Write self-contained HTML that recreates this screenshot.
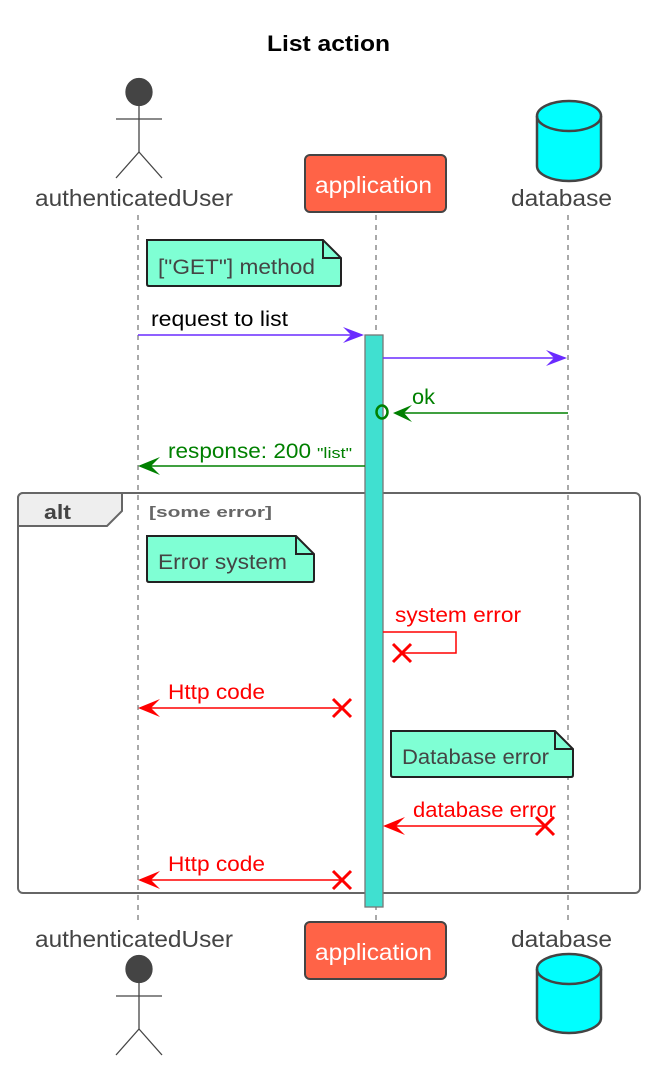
<!DOCTYPE html>
<html><head><meta charset="utf-8"><style>
html,body{margin:0;padding:0;background:#fff;}
svg{display:block;font-family:"Liberation Sans",sans-serif;}
</style></head><body>
<svg width="650" height="1065" viewBox="0 0 650 1065" xmlns="http://www.w3.org/2000/svg">
<rect width="650" height="1065" fill="#fff"/>
<text x="267" y="51" font-size="22" font-weight="bold" fill="#000" textLength="123" lengthAdjust="spacingAndGlyphs">List action</text>

<g stroke="#555" stroke-width="1" stroke-dasharray="5,5">
<line x1="138" y1="215" x2="138" y2="922"/>
<line x1="376" y1="215" x2="376" y2="922"/>
<line x1="568" y1="215" x2="568" y2="922"/>
</g>

<g stroke="#444" fill="none" stroke-width="1.3">
<ellipse cx="139" cy="92" rx="13" ry="13.5" fill="#444"/>
<line x1="139" y1="105" x2="139" y2="152"/>
<line x1="116" y1="119" x2="162" y2="119"/>
<line x1="139" y1="152" x2="116" y2="178"/>
<line x1="139" y1="152" x2="162" y2="178"/>
</g>
<text x="35" y="206" font-size="23" fill="#444" textLength="198" lengthAdjust="spacingAndGlyphs">authenticatedUser</text>
<rect x="305" y="155" width="141" height="57" rx="5" fill="#FF6347" stroke="#444" stroke-width="2"/>
<text x="315" y="193" font-size="23" fill="#fff" textLength="117" lengthAdjust="spacingAndGlyphs">application</text>
<path d="M537,116 L537,166 A32,15 0 0 0 601,166 L601,116 A32,15 0 0 0 537,116 Z" fill="#00FFFF" stroke="#444" stroke-width="2.5"/>
<path d="M537,116 A32,15 0 0 0 601,116" fill="none" stroke="#444" stroke-width="2.5"/>
<text x="511" y="206" font-size="23" fill="#444" textLength="101" lengthAdjust="spacingAndGlyphs">database</text>

<g stroke="#444" fill="none" stroke-width="1.3">
<ellipse cx="139" cy="969" rx="13" ry="13.5" fill="#444"/>
<line x1="139" y1="982" x2="139" y2="1029"/>
<line x1="116" y1="996" x2="162" y2="996"/>
<line x1="139" y1="1029" x2="116" y2="1055"/>
<line x1="139" y1="1029" x2="162" y2="1055"/>
</g>
<text x="35" y="947" font-size="23" fill="#444" textLength="198" lengthAdjust="spacingAndGlyphs">authenticatedUser</text>
<rect x="305" y="922" width="141" height="57" rx="5" fill="#FF6347" stroke="#444" stroke-width="2"/>
<text x="315" y="960" font-size="23" fill="#fff" textLength="117" lengthAdjust="spacingAndGlyphs">application</text>
<path d="M537,969 L537,1018 A32,15 0 0 0 601,1018 L601,969 A32,15 0 0 0 537,969 Z" fill="#00FFFF" stroke="#444" stroke-width="2.5"/>
<path d="M537,969 A32,15 0 0 0 601,969" fill="none" stroke="#444" stroke-width="2.5"/>
<text x="511" y="947" font-size="23" fill="#444" textLength="101" lengthAdjust="spacingAndGlyphs">database</text>

<rect x="18" y="493" width="622" height="400" rx="5" fill="none" stroke="#666" stroke-width="2"/>
<path d="M18,498 A5,5 0 0 1 23,493 L122,493 L122,511 L107,526 L18,526 Z" fill="#eee" stroke="#666" stroke-width="2"/>
<text x="44" y="519" font-size="20" font-weight="bold" fill="#444" textLength="27" lengthAdjust="spacingAndGlyphs">alt</text>
<text x="149" y="517" font-size="15" font-weight="bold" fill="#666" textLength="123" lengthAdjust="spacingAndGlyphs">[some error]</text>

<rect x="365" y="335" width="18" height="572" fill="#40E0D0" stroke="#777" stroke-width="1.3"/>

<g stroke="#222" stroke-width="2" fill="#7FFFD4">
<path d="M147,240 L323,240 L341,258 L341,284 Q341,286 339,286 L149,286 Q147,286 147,284 Z"/>
<path d="M323,240 L323,258 L341,258" fill="none"/>
<path d="M147,536 L296,536 L314,554 L314,580 Q314,582 312,582 L149,582 Q147,582 147,580 Z"/>
<path d="M296,536 L296,554 L314,554" fill="none"/>
<path d="M391,731 L555,731 L573,749 L573,775 Q573,777 571,777 L393,777 Q391,777 391,775 Z"/>
<path d="M555,731 L555,749 L573,749" fill="none"/>
</g>
<g font-size="21" fill="#444">
<text x="158" y="274" textLength="157" lengthAdjust="spacingAndGlyphs">["GET"] method</text>
<text x="158" y="569" textLength="129" lengthAdjust="spacingAndGlyphs">Error system</text>
<text x="402" y="764" textLength="147" lengthAdjust="spacingAndGlyphs">Database error</text>
</g>

<g stroke="#6A2BFF" stroke-width="1.5" fill="#6A2BFF">
<line x1="138" y1="335" x2="362" y2="335"/>
<path d="M364,335 L343,327 L351,335 L343,343 Z" stroke="none"/>
<line x1="383" y1="358" x2="565" y2="358"/>
<path d="M567,358 L546,350 L554,358 L546,366 Z" stroke="none"/>
</g>
<text x="151" y="326" font-size="21" fill="#000" textLength="137" lengthAdjust="spacingAndGlyphs">request to list</text>

<g stroke="#008000" stroke-width="1.5" fill="#008000">
<line x1="395" y1="413" x2="568" y2="413"/>
<path d="M393,413 L412,405 L404,413 L412,422 Z" stroke="none"/>
<ellipse cx="382" cy="412" rx="5.5" ry="6.5" fill="none" stroke-width="2.5"/>
<line x1="140" y1="466" x2="365" y2="466"/>
<path d="M138,466 L160,457 L151,466 L160,475 Z" stroke="none"/>
</g>
<text x="412" y="404" font-size="21" fill="#008000" textLength="23" lengthAdjust="spacingAndGlyphs">ok</text>
<text x="168" y="458" font-size="21" fill="#008000" textLength="143" lengthAdjust="spacingAndGlyphs">response: 200</text>
<text x="317" y="458" font-size="15" fill="#008000" textLength="35" lengthAdjust="spacingAndGlyphs">"list"</text>

<g stroke="#FF0000" stroke-width="1.5" fill="#FF0000">
<path d="M383,632 L456,632 L456,653 L402,653" fill="none"/>
<path d="M393,644 L411,662 M411,644 L393,662" stroke-width="3" fill="none"/>
<line x1="140" y1="708" x2="342" y2="708"/>
<path d="M138,708 L160,699 L151,708 L160,717 Z" stroke="none"/>
<path d="M333,699 L351,717 M351,699 L333,717" stroke-width="3" fill="none"/>
<line x1="385" y1="826" x2="545" y2="826"/>
<path d="M383,826 L405,817 L396,826 L405,835 Z" stroke="none"/>
<path d="M536,817 L554,835 M554,817 L536,835" stroke-width="3" fill="none"/>
<line x1="140" y1="880" x2="342" y2="880"/>
<path d="M138,880 L160,871 L151,880 L160,889 Z" stroke="none"/>
<path d="M333,871 L351,889 M351,871 L333,889" stroke-width="3" fill="none"/>
</g>
<g font-size="21" fill="#FF0000">
<text x="395" y="622" textLength="126" lengthAdjust="spacingAndGlyphs">system error</text>
<text x="168" y="699" textLength="97" lengthAdjust="spacingAndGlyphs">Http code</text>
<text x="413" y="817" textLength="143" lengthAdjust="spacingAndGlyphs">database error</text>
<text x="168" y="871" textLength="97" lengthAdjust="spacingAndGlyphs">Http code</text>
</g>
</svg>
</body></html>
